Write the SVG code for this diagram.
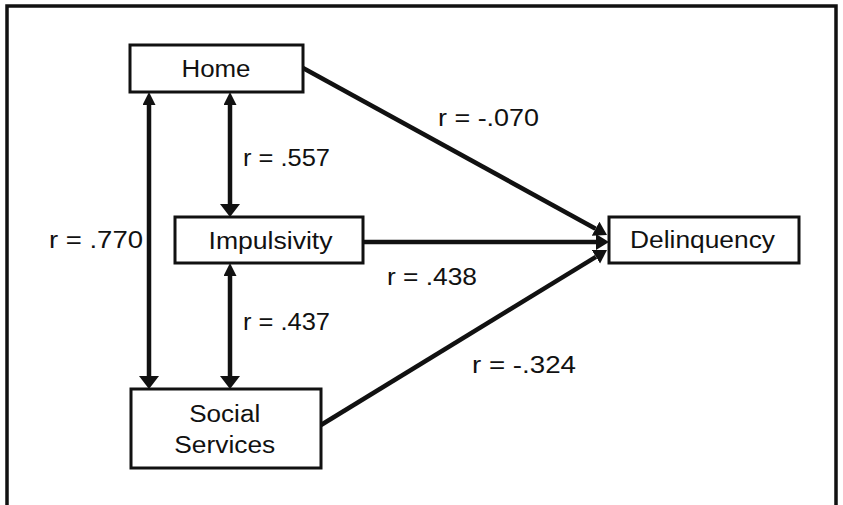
<svg xmlns="http://www.w3.org/2000/svg" width="843" height="505" viewBox="0 0 843 505">
  <style>
    .box { fill: #ffffff; stroke: #111111; stroke-width: 3; }
    .frame { fill: none; stroke: #111111; stroke-width: 3.5; }
    .link { fill: none; stroke: #111111; stroke-width: 4.5; }
    text { font-family: "Liberation Sans", Arial, sans-serif; font-size: 23px; fill: #111111; }
    .c { text-anchor: middle; }
  </style>
  <defs>
    <!-- arrowheads: tips sit 13px beyond each line end -->
    <marker id="headWide" markerUnits="userSpaceOnUse" markerWidth="14" markerHeight="22" refX="0" refY="10" orient="auto-start-reverse">
      <path d="M0,0 L13,10 L0,20 Z" fill="#111111"/>
    </marker>
    <marker id="headNarrow" markerUnits="userSpaceOnUse" markerWidth="14" markerHeight="14" refX="0" refY="6.5" orient="auto-start-reverse">
      <path d="M0,0 L13,6.5 L0,13 Z" fill="#111111"/>
    </marker>
    <marker id="headMid" markerUnits="userSpaceOnUse" markerWidth="14" markerHeight="18" refX="0" refY="8" orient="auto">
      <path d="M0,0 L13,8 L0,16 Z" fill="#111111"/>
    </marker>
  </defs>

  <rect width="843" height="505" fill="#ffffff"/>
  <!-- outer frame, open at the bottom -->
  <path class="frame" d="M7,510 V6 H836 V510"/>

  <g id="connectors">
    <line class="link" x1="149" y1="105" x2="149" y2="376" marker-start="url(#headNarrow)" marker-end="url(#headWide)"/>
    <line class="link" x1="230" y1="105" x2="230" y2="204" marker-start="url(#headNarrow)" marker-end="url(#headWide)"/>
    <line class="link" x1="230" y1="276" x2="230" y2="376" marker-start="url(#headNarrow)" marker-end="url(#headWide)"/>
    <line class="link" x1="364" y1="242" x2="596" y2="242" marker-end="url(#headMid)"/>
    <line class="link" x1="303" y1="68" x2="595.6" y2="228.7" marker-end="url(#headMid)"/>
    <line class="link" x1="321" y1="425" x2="595.9" y2="256.8" marker-end="url(#headMid)"/>

    <text x="49" y="248" textLength="94" lengthAdjust="spacingAndGlyphs">r = .770</text>
    <text x="243" y="166" textLength="87" lengthAdjust="spacingAndGlyphs">r = .557</text>
    <text x="243" y="330" textLength="87" lengthAdjust="spacingAndGlyphs">r = .437</text>
    <text x="387" y="285" textLength="90" lengthAdjust="spacingAndGlyphs">r = .438</text>
    <text x="438" y="126" textLength="101" lengthAdjust="spacingAndGlyphs">r = -.070</text>
    <text x="472" y="373" textLength="104" lengthAdjust="spacingAndGlyphs">r = -.324</text>
  </g>

  <g id="home">
    <rect class="box" x="130" y="45" width="173" height="47"/>
    <text class="c" x="216" y="77" textLength="69" lengthAdjust="spacingAndGlyphs">Home</text>
  </g>

  <g id="impulsivity">
    <rect class="box" x="175" y="217" width="188" height="46"/>
    <text class="c" x="270.5" y="249" textLength="124" lengthAdjust="spacingAndGlyphs">Impulsivity</text>
  </g>

  <g id="social-services">
    <rect class="box" x="131" y="389" width="190" height="79"/>
    <text class="c" x="224.7" y="422" textLength="71" lengthAdjust="spacingAndGlyphs">Social</text>
    <text class="c" x="224.8" y="453" textLength="101" lengthAdjust="spacingAndGlyphs">Services</text>
  </g>

  <g id="delinquency">
    <rect class="box" x="609" y="217" width="190" height="46"/>
    <text class="c" x="702.5" y="248" textLength="145" lengthAdjust="spacingAndGlyphs">Delinquency</text>
  </g>
</svg>
